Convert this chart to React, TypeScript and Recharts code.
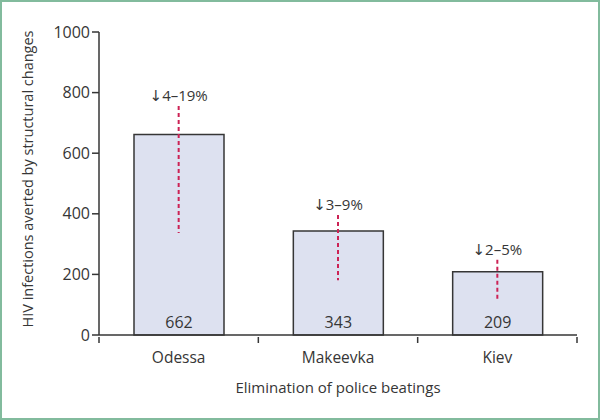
import { BarChart, Bar, XAxis, YAxis, ReferenceLine, LabelList } from 'recharts'

const cities = ['Odessa', 'Makeevka', 'Kiev']
const averted = [662, 343, 209]
const rangeHigh = [756, 396, 248]
const rangeLow = [337, 181, 113]
const reductionLabels = ['\u21934\u201319%', '\u21933\u20139%', '\u21932\u20135%']
const yTicks = [0, 200, 400, 600, 800, 1000]

const data = cities.map((city, i) => ({ city, value: averted[i] }))

const W = 600
const H = 420
const margin = { top: 32, right: 23, bottom: 0, left: 0 }
const yAxisWidth = 99
const font = '"Open Sans", "DejaVu Sans", sans-serif'
const ink = '#363636'
const step = (W - margin.left - margin.right - yAxisWidth) / cities.length

function CityTick(props: any) {
  const { x, y, payload, index } = props
  return (
    <g>
      <line x1={x - step / 2} x2={x - step / 2} y1={y - 6} y2={y} stroke={ink} strokeWidth={1.5} />
      {index === cities.length - 1 && (
        <line x1={x + step / 2} x2={x + step / 2} y1={y - 6} y2={y} stroke={ink} strokeWidth={1.5} />
      )}
      <text x={x} y={y + 20} textAnchor="middle" fontSize={15.5} fill={ink} fontFamily={font}>
        {payload.value}
      </text>
    </g>
  )
}

export default function App() {
  return (
    <div style={{ position: 'absolute', top: 0, left: 0, width: W, height: H, boxSizing: 'border-box', border: '2px solid #82bb9d', background: '#fff' }}>
      <div style={{ position: 'absolute', top: -2, left: -2 }}>
        <BarChart width={W} height={H} data={data} margin={margin}>
          <XAxis
            dataKey="city"
            height={85}
            tickLine={false}
            tickSize={6}
            axisLine={{ stroke: ink, strokeWidth: 1.5 }}
            tick={<CityTick />}
            label={{ value: 'Elimination of police beatings', position: 'insideBottom', offset: 27, fontSize: 15, fill: ink, fontFamily: font }}
          />
          <YAxis
            width={yAxisWidth}
            domain={[0, 1000]}
            ticks={yTicks}
            interval={0}
            tickSize={7}
            tickLine={{ stroke: ink, strokeWidth: 1.5 }}
            axisLine={{ stroke: ink, strokeWidth: 1.5 }}
            tick={{ fontSize: 16, fill: ink, fontFamily: font }}
            label={{
              content: () => (
                <text x={33} y={179} transform="rotate(-90 33 179)" textAnchor="middle" fontSize={14.5} fill={ink} fontFamily={font}>
                  HIV infections averted by structural changes
                </text>
              ),
            }}
          />
          <Bar dataKey="value" barSize={90} fill="#dde1f0" stroke={ink} strokeWidth={1.5} isAnimationActive={false}>
            <LabelList dataKey="value" position="insideBottom" offset={7} fontSize={16} fill={ink} fontFamily={font} />
          </Bar>
          {cities.map((city, i) => (
            <ReferenceLine
              key={city}
              segment={[{ x: city, y: rangeHigh[i] }, { x: city, y: rangeLow[i] }]}
              stroke="#cc2255"
              strokeWidth={2}
              strokeDasharray="4 3"
              label={{ value: reductionLabels[i], position: 'top', offset: 5, fontSize: 15, fill: ink, fontFamily: font }}
            />
          ))}
        </BarChart>
      </div>
    </div>
  )
}
